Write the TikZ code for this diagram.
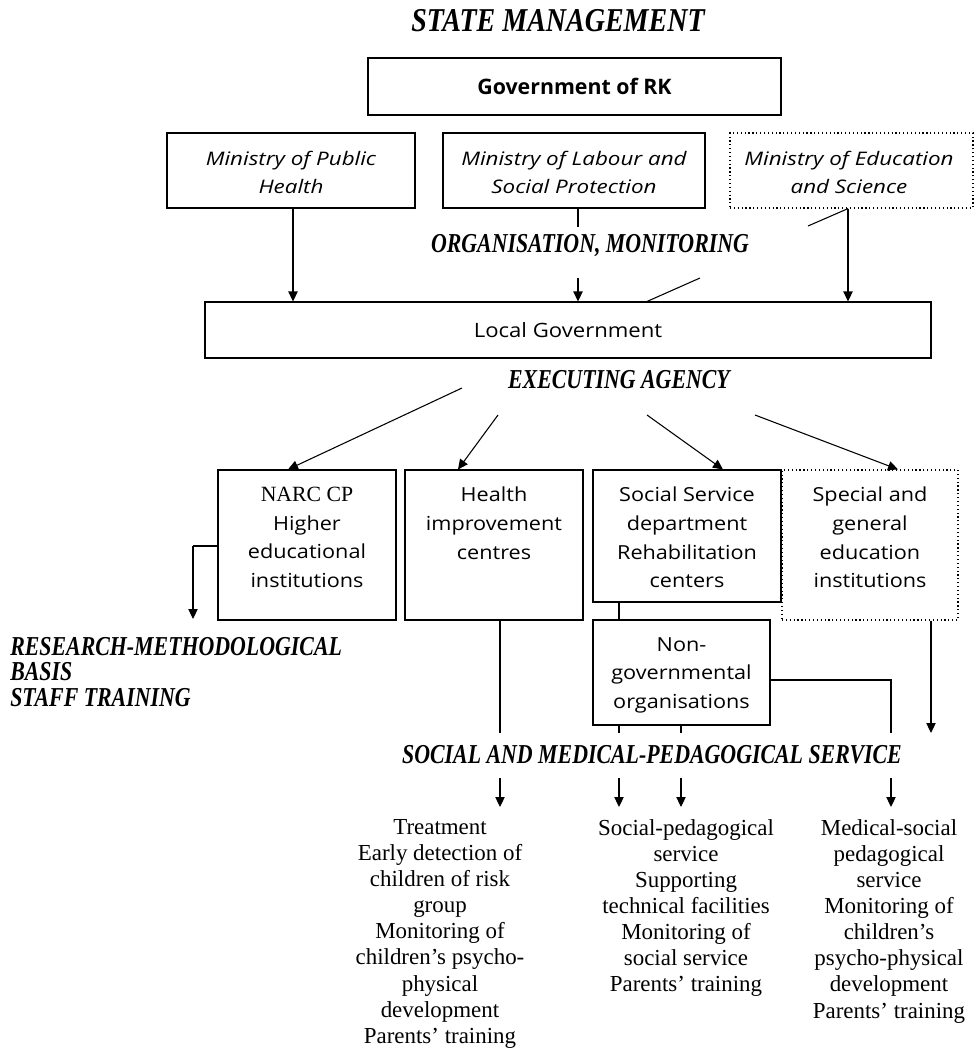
\documentclass[tikz,border=0pt]{standalone}
\usepackage{fontspec}
\setmainfont{Liberation Serif}
\newfontfamily\tnr[FakeStretch=0.8]{Liberation Serif}
\newfontfamily\tnrt[FakeStretch=0.84]{Liberation Serif}
\newfontfamily\cs[FakeStretch=1.12]{Open Sans}
\newfontfamily\csi[FakeStretch=1.2]{Open Sans}
\newfontfamily\csb{Open Sans}
\usetikzlibrary{arrows.meta,calc}
\tikzset{
  box/.style={draw, line width=0.8pt, rectangle, inner sep=0pt},
  dotbox/.style={draw, line width=0.9pt, dotted, rectangle, inner sep=0pt},
  boxtext/.style={align=center, inner sep=0pt, anchor=north, font=\cs\fontsize{14.5pt}{21.4pt}\selectfont},
  mintext/.style={align=center, inner sep=0pt, font=\csi\itshape\fontsize{14pt}{21pt}\selectfont},
  lbl/.style={inner sep=0pt, font=\tnr\bfseries\itshape\fontsize{20.5pt}{19pt}\selectfont},
  outtext/.style={align=center, inner sep=0pt, anchor=north, font=\rmfamily\fontsize{17.2pt}{19.6pt}\selectfont},
  arr/.style={line width=0.8pt, -{Triangle[length=7.5pt,width=7pt]}},
  ln/.style={line width=0.8pt},
}
\begin{document}
\begin{tikzpicture}[x=0.75pt,y=-0.75pt]
\useasboundingbox (0,0) rectangle (975,1050);
% title
\node[inner sep=0pt, font=\tnrt\bfseries\itshape\fontsize{25pt}{28pt}\selectfont] (title) at (558,21) {STATE MANAGEMENT};
% government
\node[box, line width=2pt, minimum width=309.75pt, minimum height=42.75pt,
      font=\csb\bfseries\fontsize{16pt}{18pt}\selectfont] (gov) at (574.5,86.5) {Government of RK};
% ministries
\node[box, minimum width=186pt, minimum height=56.25pt] (m1) at (291,170.5) {};
\node[mintext] (m1t) at (291,172) {Ministry of Public\\Health};
\node[box, minimum width=196.5pt, minimum height=56.25pt] (m2) at (574,170.5) {};
\node[mintext] (m2t) at (574,172) {Ministry of Labour and\\Social Protection};
\node[dotbox, minimum width=182.25pt, minimum height=56.25pt] (m3) at (851.5,170.5) {};
\node[mintext] (m3t) at (849,172) {Ministry of Education\\and Science};
% local government
\node[box, minimum width=544.5pt, minimum height=42pt,
      font=\cs\fontsize{14.8pt}{17pt}\selectfont] (lg) at (568,330) {Local Government};
% labels
\node[lbl] (org) at (590,246) {ORGANISATION, MONITORING};
\node[lbl] (exec) at (619,380) {EXECUTING AGENCY};
\node[lbl] (serv) at (652,755) {SOCIAL AND MEDICAL-PEDAGOGICAL SERVICE};
\node[lbl, anchor=north west, align=left] (res) at (10,637)
  {RESEARCH-METHODOLOGICAL\\BASIS\\STAFF TRAINING};
% second row
\node[box, minimum width=133.5pt, minimum height=112.5pt] (narc) at (307,545) {};
\node[boxtext] (narct) at (307,487) {{\rmfamily\fontsize{16.3pt}{21.4pt}\selectfont NARC CP}\\Higher\\educational\\institutions};
\node[box, minimum width=133.5pt, minimum height=112.5pt] (health) at (494,545) {};
\node[boxtext] (healtht) at (494,487) {Health\\improvement\\centres};
\node[box, minimum width=141pt, minimum height=99pt] (social) at (687,536) {};
\node[boxtext] (socialt) at (687,487) {Social Service\\department\\Rehabilitation\\centers};
\node[dotbox, minimum width=132pt, minimum height=112.5pt] (special) at (870,545) {};
\node[boxtext] (specialt) at (870,487) {Special and\\general\\education\\institutions};
\node[box, minimum width=132.75pt, minimum height=78.75pt, fill=white] (ngo) at (681.5,672.5) {};
\node[boxtext] (ngot) at (681.5,637) {Non-\\governmental\\organisations};
% outputs
\node[outtext] (o1) at (440,819) {Treatment\\Early detection of\\children of risk\\group\\Monitoring of\\children’s psycho-\\physical\\development\\Parents’ training};
\node[outtext] (o2) at (686,819) {Social-pedagogical\\service\\Supporting\\technical facilities\\Monitoring of\\social service\\Parents’ training};
\node[outtext] (o3) at (889,819) {Medical-social\\pedagogical\\service\\Monitoring of\\children’s\\psycho-physical\\development\\Parents’ training};
% coordinates
\coordinate (m2a) at (578,227);
\coordinate (m2b) at (578,278);
\coordinate (d1) at (808,226);
\coordinate (d2) at (700,278);
\coordinate (e1) at (462,388);
\coordinate (e2) at (498,415);
\coordinate (e3) at (647,415);
\coordinate (e4) at (755,415);
\coordinate (rk) at (193,546);
\coordinate (rarr) at (193,619);
\coordinate (h1) at (500,733);
\coordinate (n1) at (619,733);
\coordinate (n2) at (681,733);
\coordinate (n3) at (891,733);
\coordinate (n3c) at (891,680);
\coordinate (sp1) at (931,733);
\coordinate (a1) at (500,778);
\coordinate (a2) at (619,778);
\coordinate (a3) at (681,778);
\coordinate (a4) at (891,778);
\coordinate (b1) at (500,807);
\coordinate (b2) at (619,807);
\coordinate (b3) at (681,807);
\coordinate (b4) at (891,807);
% connectors top
\draw[arr] (m1.south -| 293,0) -- (lg.north -| 293,0);
\draw[ln] (m2.south -| m2a) -- (m2a);
\draw[arr] (m2b) -- (lg.north -| m2b);
\draw[arr] (m3.south -| 848,0) -- (lg.north -| 848,0);
\draw[ln] (m3.south -| 848,0) -- (d1);
\draw[ln] (d2) -- (lg.north -| 647,0);
% executing arrows
\draw[arr] (e1) -- (narc.north -| 288,0);
\draw[arr] (e2) -- (health.north -| 458,0);
\draw[arr] (e3) -- (social.north -| 723,0);
\draw[arr] (e4) -- (special.north -| 898,0);
% research
\draw[ln] (narc.west |- rk) -- (rk);
\draw[arr] (rk) -- (rarr);
% down lines
\draw[ln] (social.south -| 619,0) -- (ngo.north -| 619,0);
\draw[ln] (health.south -| h1) -- (h1);
\draw[ln] (ngo.south -| n1) -- (n1);
\draw[ln] (ngo.south -| n2) -- (n2);
\draw[ln] (ngo.east |- n3c) -- (n3c) -- (n3);
\draw[arr] (special.south -| sp1) -- (sp1);
% lower arrows
\draw[arr] (a1) -- (b1);
\draw[arr] (a2) -- (b2);
\draw[arr] (a3) -- (b3);
\draw[arr] (a4) -- (b4);
\end{tikzpicture}
\end{document}
